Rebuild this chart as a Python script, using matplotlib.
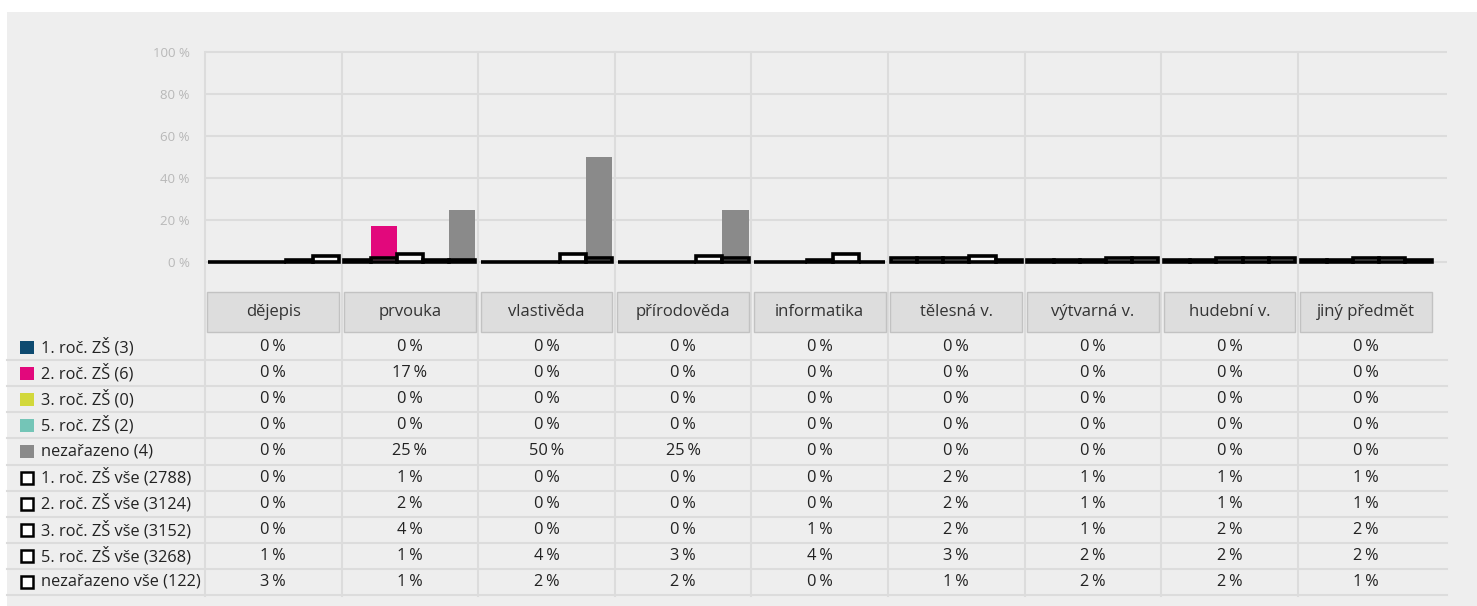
import matplotlib
matplotlib.use("Agg")
import matplotlib.pyplot as plt
from matplotlib.patches import Rectangle
from matplotlib.transforms import blended_transform_factory

plt.rcParams['font.family'] = ['Open Sans', 'DejaVu Sans']

categories = ['dějepis', 'prvouka', 'vlastivěda', 'přírodověda', 'informatika',
              'tělesná v.', 'výtvarná v.', 'hudební v.', 'jiný předmět']

filled_names = ['1. roč. ZŠ (3)', '2. roč. ZŠ (6)', '3. roč. ZŠ (0)',
                '5. roč. ZŠ (2)', 'nezařazeno (4)']
filled_colors = ['#0d4a70', '#e2087c', '#d2d83b', '#74c5b7', '#8a8a8a']
filled_values = [
    [0, 0, 0, 0, 0, 0, 0, 0, 0],
    [0, 17, 0, 0, 0, 0, 0, 0, 0],
    [0, 0, 0, 0, 0, 0, 0, 0, 0],
    [0, 0, 0, 0, 0, 0, 0, 0, 0],
    [0, 25, 50, 25, 0, 0, 0, 0, 0],
]

outline_names = ['1. roč. ZŠ vše (2788)', '2. roč. ZŠ vše (3124)',
                 '3. roč. ZŠ vše (3152)', '5. roč. ZŠ vše (3268)',
                 'nezařazeno vše (122)']
outline_values = [
    [0, 1, 0, 0, 0, 2, 1, 1, 1],
    [0, 2, 0, 0, 0, 2, 1, 1, 1],
    [0, 4, 0, 0, 1, 2, 1, 2, 2],
    [1, 1, 4, 3, 4, 3, 2, 2, 2],
    [3, 1, 2, 2, 0, 1, 2, 2, 1],
]

yticks = [0, 20, 40, 60, 80, 100]

W, H = 1477, 606
fig = plt.figure(figsize=(W / 100, H / 100), dpi=100)
fig.patch.set_facecolor('white')

def fy(py):
    return 1 - py / H

def fx(px):
    return px / W

# grey panel
fig.patches.append(Rectangle((fx(7), 0), 1 - fx(7), fy(12), transform=fig.transFigure,
                             facecolor='#eeeeee', edgecolor='none', zorder=-10))

# axes geometry (pixels)
left_px, right_px = 205, 1447
top_px, bottom_px = 50, 291
px_per_pct = 2.1
zero_px = 262
cat_px = 136.6
ax = fig.add_axes([fx(left_px), fy(bottom_px), fx(right_px) - fx(left_px),
                   fy(top_px) - fy(bottom_px)])
ax.set_zorder(1)
ax.set_facecolor('none')
ax.set_ylim(-(bottom_px - zero_px) / px_per_pct, (zero_px - top_px) / px_per_pct)
ax.set_xlim(-0.5, -0.5 + (right_px - left_px) / cat_px)
for s in ax.spines.values():
    s.set_visible(False)
ax.set_xticks([])
ax.set_yticks(yticks)
ax.set_yticklabels([f'{t} %' for t in yticks])
ax.tick_params(axis='y', length=0, pad=11, labelsize=9.5, labelcolor='#b8b8b8')

grid_c = '#dcdcdc'
for t in yticks:
    ax.axhline(t, color=grid_c, lw=1.5, zorder=1)

trans = blended_transform_factory(ax.transData, fig.transFigure)
for i in range(len(categories)):
    ax.plot([i - 0.5, i - 0.5], [fy(52), fy(596)], transform=trans, color=grid_c,
            lw=1.5, clip_on=False, zorder=1)

# bars
nslot = len(filled_values)
bw = 26.2 / cat_px
for k in range(nslot):
    xs = [i + (k - (nslot - 1) / 2) * bw for i in range(len(categories))]
    ax.bar(xs, filled_values[k], width=bw, color=filled_colors[k], edgecolor='none',
           zorder=2)
    ax.bar(xs, outline_values[k], width=bw, facecolor=(1, 1, 1, 0.6),
           edgecolor='black', lw=2.6, zorder=3)

# table header
hdr_top, hdr_bot = 292, 332
for i, c in enumerate(categories):
    ax.add_patch(Rectangle((i - 0.483, fy(hdr_bot)), 0.966, fy(hdr_top) - fy(hdr_bot),
                           transform=trans, facecolor='#dddddd', edgecolor='#c2c2c2',
                           lw=1.0, clip_on=False, zorder=4))
    ax.text(i, fy((hdr_top + hdr_bot) / 2), c, transform=trans, ha='center',
            va='center', fontsize=12, color='#333333', clip_on=False, zorder=5)

# table rows
row0, row_h = 334, 26.1
all_names = filled_names + outline_names
all_values = filled_values + outline_values
fs = 11.8
for r, (name, vals) in enumerate(zip(all_names, all_values)):
    yc = row0 + row_h * (r + 0.5)
    # marker
    if r < len(filled_names):
        fig.patches.append(Rectangle((fx(20), fy(yc + 6.5)), fx(14), 13 / H,
                                     transform=fig.transFigure,
                                     facecolor=filled_colors[r], edgecolor='none'))
    else:
        fig.patches.append(Rectangle((fx(21), fy(yc + 6)), fx(12), 12 / H,
                                     transform=fig.transFigure,
                                     facecolor='white', edgecolor='black', lw=1.8))
    fig.text(fx(41), fy(yc), name, ha='left', va='center', fontsize=fs,
             color='#222222')
    for i, v in enumerate(vals):
        ax.text(i, fy(yc), f'{v}\u2009%', transform=trans, ha='center', va='center',
                fontsize=fs, color='#222222', clip_on=False)
    # separator line below row
    yl = row0 + row_h * (r + 1)
    fig.add_artist(plt.Line2D([fx(7), fx(right_px)], [fy(yl), fy(yl)],
                              transform=fig.transFigure, color=grid_c, lw=1.5))

fig.savefig('out.png', dpi=100, facecolor=fig.get_facecolor())
